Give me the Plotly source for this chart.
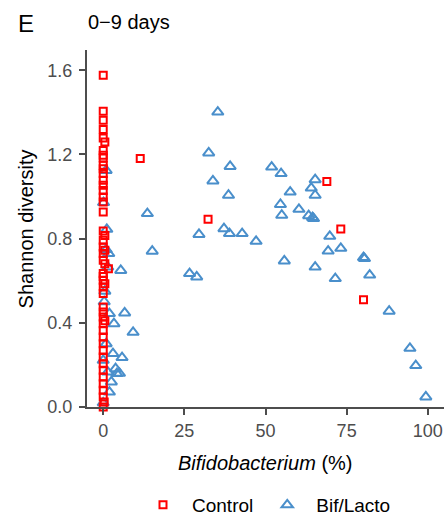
import plotly.graph_objects as go

# Control (red squares)
ctrl_x = [0, 0, 0, 0, 0, 0.5, 0, 0, 0, 0, 0, 0, 0, 0, 0, 0, 0, 0, 0, 0.5, 0, 0, 0.5, 0, 1.6, 0, 0.5, 0, 0, 0, 0.5,
          0, 0, 0, 0, 0, 0.5, 0, 0, 0, 0, 0, 0, 0, 0, 0, 0, 0, 0, 0.3, 0,
          11.4, 32.3, 68.9, 73.2, 80.2]
ctrl_y = [1.576, 1.405, 1.362, 1.318, 1.278, 1.259, 1.219, 1.196, 1.183, 1.148, 1.132, 1.109, 1.077, 1.053, 1.029,
          0.998, 0.974, 0.926, 0.836, 0.815, 0.792, 0.76, 0.745, 0.729, 0.657, 0.697, 0.68, 0.634, 0.62, 0.602, 0.585,
          0.57, 0.539, 0.475, 0.451, 0.428, 0.41, 0.396, 0.364, 0.333, 0.301, 0.269, 0.238, 0.206, 0.174, 0.143,
          0.111, 0.079, 0.048, 0.024, 0.0,
          1.18, 0.892, 1.071, 0.846, 0.510]

# Bif/Lacto (blue triangles)
bif_x = [35.3, 32.5, 39.1, 33.8, 38.6, 51.9, 54.8, 57.6, 54.6, 55.0, 60.3, 13.6, 15.1, 29.5, 37.2, 38.9, 42.8,
         47.1, 55.8, 26.6, 28.8, 65.3, 64.1, 65.3, 63.3, 64.5, 64.8, 69.8, 69.3, 73.2, 80.2, 80.5, 65.3, 71.5,
         82.1, 88.1, 94.5, 96.3, 99.4, 5.4, 6.6, 9.2, 5.8, 5.0,
         0.9, 0.1, 1.1, 0.9, 1.7, 1.4, 1.9, 3.3, 0.9, 3.0, 0.0, 3.8, 1.4, 4.2, 2.5, 1.9, 0.0, 0.5, 0.3]
bif_y = [1.401, 1.207, 1.143, 1.074, 1.006, 1.140, 1.109, 1.021, 0.962, 0.911, 0.939, 0.919, 0.740, 0.820, 0.847,
         0.824, 0.824, 0.787, 0.694, 0.634, 0.618, 1.080, 1.040, 1.006, 0.909, 0.900, 0.895, 0.811, 0.741, 0.754,
         0.710, 0.705, 0.665, 0.610, 0.627, 0.455, 0.279, 0.197, 0.048, 0.649, 0.447, 0.355, 0.235, 0.16,
         1.124, 0.971, 0.844, 0.748, 0.729, 0.665, 0.444, 0.396, 0.301, 0.254, 0.222, 0.182, 0.166, 0.159, 0.119,
         0.071, 0.02, 0.55, 0.5]

x_ticks = [0, 25, 50, 75, 100]
y_ticks = [0.0, 0.4, 0.8, 1.2, 1.6]
y_tick_labels = ["0.0", "0.4", "0.8", "1.2", "1.6"]

RED = "#FF0000"
BLUE = "#4A8FCB"
AX = "#4D4D4D"
FONT = "Liberation Sans, Arial, sans-serif"
TICKFONT = dict(family=FONT, size=18, color="#4D4D4D")

fig = go.Figure()
fig.add_trace(go.Scatter(
    x=bif_x, y=bif_y, mode="markers", name="Bif/Lacto", cliponaxis=False,
    marker=dict(symbol="triangle-up-open", size=10, color=BLUE, line=dict(width=2, color=BLUE)),
))
fig.add_trace(go.Scatter(
    x=ctrl_x, y=ctrl_y, mode="markers", name="Control", cliponaxis=False,
    marker=dict(symbol="square-open", size=7, color=RED, line=dict(width=2, color=RED)),
))

fig.update_layout(
    width=444, height=520,
    margin=dict(l=87, r=0, t=50, b=113),
    paper_bgcolor="white", plot_bgcolor="white",
    showlegend=True,
    legend=dict(orientation="h", xref="container", yref="container", x=134 / 444, y=1 - 505 / 520,
                xanchor="left", yanchor="middle", traceorder="reversed",
                font=dict(family=FONT, size=19, color="black"), itemwidth=48),
    xaxis=dict(range=[-5, 105], tickvals=x_ticks, showgrid=False, zeroline=False, automargin=False,
               showline=True, linecolor=AX, linewidth=2, ticks="outside", ticklen=6,
               tickcolor=AX, tickwidth=2, tickfont=TICKFONT),
    yaxis=dict(range=[0, 1.696], tickvals=y_ticks, ticktext=y_tick_labels, showgrid=False, zeroline=False,
               automargin=False, ticklabelstandoff=3,
               showline=True, linecolor=AX, linewidth=2, ticks="outside", ticklen=6,
               tickcolor=AX, tickwidth=2, tickfont=TICKFONT),
    annotations=[
        dict(text="E", xref="paper", yref="paper", x=-0.2, y=1.0756, xanchor="left", yanchor="middle",
             showarrow=False, font=dict(family=FONT, size=24, color="black")),
        dict(text="0\u22129 days", xref="paper", yref="paper", x=-0.002, y=1.078, xanchor="left",
             yanchor="middle", showarrow=False, font=dict(family=FONT, size=20, color="black")),
        dict(text="Shannon diversity", xref="paper", yref="paper", x=-0.171, y=0.5, textangle=-90,
             xanchor="center", yanchor="middle", showarrow=False, font=dict(family=FONT, size=20, color="black")),
        dict(text="<i>Bifidobacterium</i> (%)", xref="paper", yref="paper", x=0.5, y=-0.157,
             xanchor="center", yanchor="middle", showarrow=False, font=dict(family=FONT, size=20, color="black")),
    ],
)

fig.write_html("out.html", config={"displayModeBar": False},
               post_script="document.body.style.margin='0';document.body.style.overflow='hidden';")
